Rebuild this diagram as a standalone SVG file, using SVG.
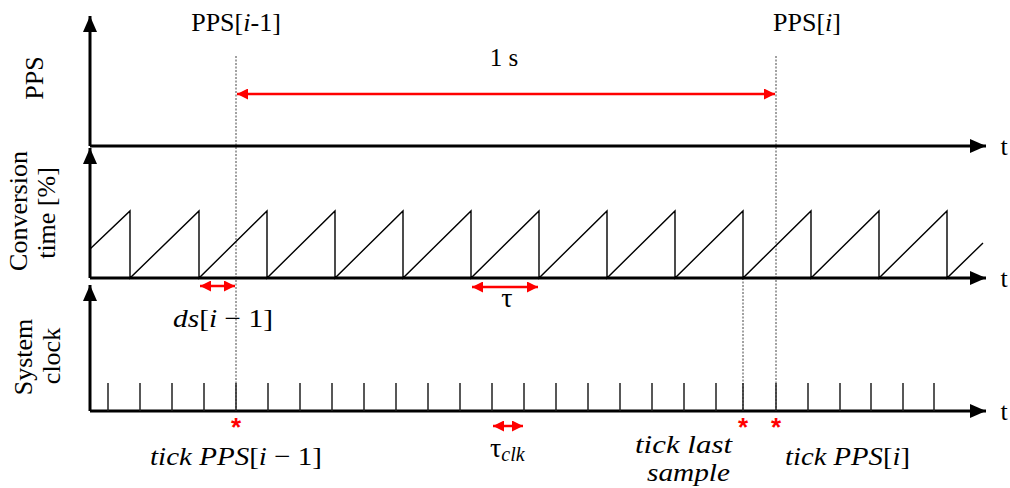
<svg xmlns="http://www.w3.org/2000/svg" width="1010" height="488" viewBox="0 0 1010 488">
<style>
.ax{stroke:#000;stroke-width:3;fill:none}
.saw{stroke:#000;stroke-width:1.4;fill:none}
.tick{stroke:#222;stroke-width:1.5}
.dot{stroke:#444;stroke-width:1;stroke-dasharray:2 1.5;fill:none}
.red{stroke:#f00;stroke-width:2.5;fill:none}
.serif{font-family:"Liberation Serif","Times New Roman",serif;fill:#000}
.math{font-family:"Liberation Serif","Times New Roman",serif;font-style:italic;fill:#000}
.star{font-family:"Liberation Sans",Arial,sans-serif;fill:#f00;font-size:26px;font-weight:bold}
</style>
<defs>
<marker id="ah" viewBox="0 0 16 14" refX="16" refY="7" markerWidth="16" markerHeight="14" markerUnits="userSpaceOnUse" orient="auto">
<path d="M0,0 L16,7 L0,14 Z" fill="#000"/>
</marker>
<marker id="rh" viewBox="0 0 10 10" refX="10" refY="5" markerWidth="11" markerHeight="11" markerUnits="userSpaceOnUse" orient="auto-start-reverse">
<path d="M0,0 L10,5 L0,10 Z" fill="#f00"/>
</marker>
</defs>

<g id="guides">
<line class="dot" x1="236" y1="56" x2="236" y2="411"/>
<line class="dot" x1="776" y1="56" x2="776" y2="411"/>
<line class="dot" x1="743" y1="278" x2="743" y2="411"/>
</g>

<g id="pps-axis">
<line class="ax" x1="90" y1="146" x2="90" y2="16" marker-end="url(#ah)"/>
<line class="ax" x1="90" y1="146" x2="986" y2="146" marker-end="url(#ah)"/>
<text class="serif" x="1004" y="155" font-size="26" text-anchor="middle">t</text>
<text class="serif" font-size="26" text-anchor="middle" transform="translate(43,78) rotate(-90)">PPS</text>
</g>

<g id="conv-axis">
<line class="ax" x1="90" y1="278" x2="90" y2="148" marker-end="url(#ah)"/>
<line class="ax" x1="90" y1="278" x2="986" y2="278" marker-end="url(#ah)"/>
<text class="serif" x="1004" y="287" font-size="26" text-anchor="middle">t</text>
<text class="serif" font-size="26" text-anchor="middle" transform="translate(27,211) rotate(-90)">Conversion</text>
<text class="serif" font-size="26" text-anchor="middle" transform="translate(55,213) rotate(-90)">time [%]</text>
</g>

<g id="sawtooth">
<path class="saw" d="M90,249 L130,211 L130,278 L199,211 L199,278 L267,211 L267,278 L335,211 L335,278 L403,211 L403,278 L471,211 L471,278 L539,211 L539,278 L607,211 L607,278 L675,211 L675,278 L743,211 L743,278 L811,211 L811,278 L879,211 L879,278 L947,211 L947,278 L983,243"/>
</g>

<g id="clock-axis">
<line class="ax" x1="90" y1="411" x2="90" y2="285" marker-end="url(#ah)"/>
<line class="ax" x1="90" y1="411" x2="986" y2="411" marker-end="url(#ah)"/>
<text class="serif" x="1004" y="420" font-size="26" text-anchor="middle">t</text>
<text class="serif" font-size="26" text-anchor="middle" transform="translate(32,357) rotate(-90)">System</text>
<text class="serif" font-size="26" text-anchor="middle" transform="translate(60,356) rotate(-90)">clock</text>
</g>

<g id="clock-ticks">
<path class="tick" d="M108,383V411 M140,383V411 M172,383V411 M204,383V411 M236,383V411 M268,383V411 M300,383V411 M332,383V411 M364,383V411 M396,383V411 M428,383V411 M460,383V411 M492,383V411 M524,383V411 M556,383V411 M588,383V411 M620,383V411 M652,383V411 M684,383V411 M716,383V411 M743,383V411 M776,383V411 M808,383V411 M840,383V411 M871,383V411 M903,383V411 M934,383V411"/>
</g>

<g id="connectors">
<line class="red" x1="237" y1="94" x2="775" y2="94" marker-start="url(#rh)" marker-end="url(#rh)"/>
<line class="red" x1="200" y1="286" x2="235" y2="286" marker-start="url(#rh)" marker-end="url(#rh)"/>
<line class="red" x1="472" y1="287" x2="538" y2="287" marker-start="url(#rh)" marker-end="url(#rh)"/>
<line class="red" x1="493" y1="426" x2="523" y2="426" marker-start="url(#rh)" marker-end="url(#rh)"/>
</g>

<g id="labels">
<text class="serif" x="236" y="31" font-size="26" text-anchor="middle">PPS[<tspan font-style="italic">i</tspan>-1]</text>
<text class="serif" x="807" y="31" font-size="26" text-anchor="middle">PPS[<tspan font-style="italic">i</tspan>]</text>
<text class="serif" x="504" y="66" font-size="25" text-anchor="middle">1 s</text>
<text class="math" x="173" y="327" font-size="26" textLength="100" lengthAdjust="spacingAndGlyphs">ds<tspan font-style="normal">[</tspan>i <tspan font-style="normal">− 1]</tspan></text>
<text class="serif" x="507" y="307" font-size="28" text-anchor="middle">τ</text>
<text x="490" y="457" font-size="28"><tspan class="serif">τ</tspan><tspan class="math" font-size="20" dy="4">clk</tspan></text>
<text class="math" x="150" y="465" font-size="26" textLength="172" lengthAdjust="spacingAndGlyphs">tick PPS<tspan font-style="normal">[</tspan>i <tspan font-style="normal">− 1]</tspan></text>
<text class="math" x="635" y="453" font-size="26" textLength="97" lengthAdjust="spacingAndGlyphs">tick last</text>
<text class="math" x="647" y="481" font-size="26" textLength="83" lengthAdjust="spacingAndGlyphs">sample</text>
<text class="math" x="785" y="465" font-size="26" textLength="125" lengthAdjust="spacingAndGlyphs">tick PPS<tspan font-style="normal">[</tspan>i<tspan font-style="normal">]</tspan></text>
<text class="star" x="236" y="436" text-anchor="middle">*</text>
<text class="star" x="743" y="436" text-anchor="middle">*</text>
<text class="star" x="776" y="436" text-anchor="middle">*</text>
</g>
</svg>
